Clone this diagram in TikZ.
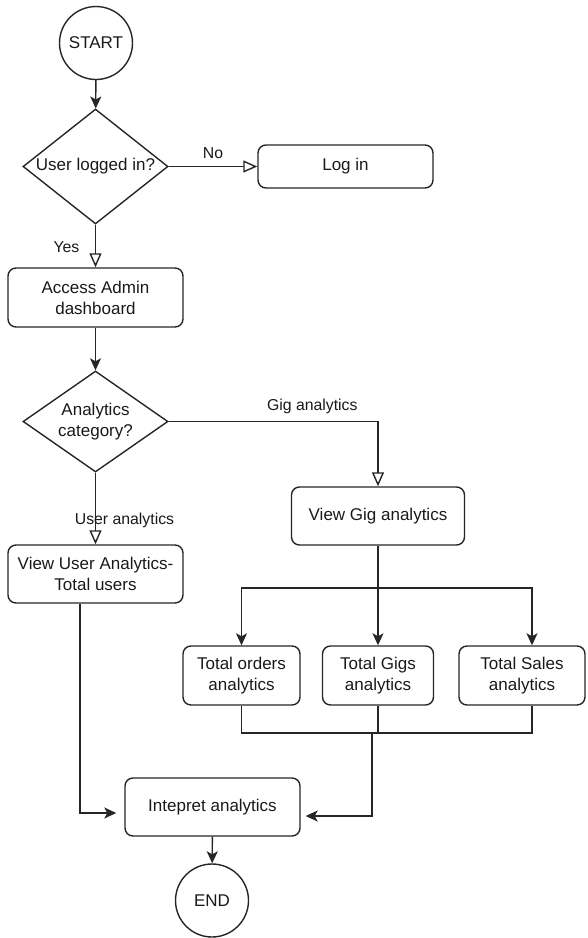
\documentclass[tikz,border=0pt]{standalone}
\usepackage{fontspec}
\setmainfont{Liberation Sans}
\usetikzlibrary{shapes.geometric,arrows.meta}
\begin{document}
\begin{tikzpicture}[x=1pt,y=-1pt,
  line width=1.4pt,
  every node/.style={font=\fontsize{17}{21}\selectfont, text=black!90},
  box/.style={draw=black!85, rounded corners=8pt, minimum width=175pt, minimum height=58pt, inner sep=0pt, align=center},
  term/.style={draw=black!85, circle, minimum size=73pt, inner sep=0pt},
  dec/.style={draw=black!85, diamond, inner sep=0pt, aspect=1},
  lbl/.style={font=\fontsize{15.8}{19}\selectfont, inner sep=0pt},
  conn/.style={draw=black!85},
  fa/.style={conn, -{Stealth[length=12pt,width=11pt,inset=3pt]}},
  oa/.style={conn, -{Triangle[open,length=14pt,width=12pt,fill=white]}},
]
\useasboundingbox (0,0) rectangle (587,938);

% nodes
\node[term] (start) at (96,43) {START};
\node[dec, minimum width=145pt, minimum height=115pt] (q1) at (95.5,166.5) {\makebox[0pt]{User logged in?}};
\node[box, minimum height=43pt] (login) at (345.5,166.5) {Log in};
\node[box, minimum height=59pt] (admin) at (95.5,297.5) {Access Admin\\dashboard};
\node[dec, minimum width=145pt, minimum height=101pt] (q2) at (95.5,421.5) {\makebox[0pt]{\begin{tabular}{@{}c@{}}Analytics\\category?\end{tabular}}};
\node[box] (user) at (95.5,574) {View User Analytics-\\Total users};
\node[box, minimum width=173pt] (gig) at (378,516) {View Gig analytics};
\node[box, minimum width=117pt, minimum height=59pt] (orders) at (241.5,675.5) {Total orders\\analytics};
\node[box, minimum width=111pt, minimum height=59pt] (gigs) at (378,675.5) {Total Gigs\\analytics};
\node[box, minimum width=126pt, minimum height=59pt] (sales) at (522,675.5) {Total Sales\\analytics};
\node[box] (interp) at (212.5,807) {Intepret analytics};
\node[term] (end) at (212,900.5) {END};

\coordinate (split) at (378,588);
\coordinate (merge) at (372,733);

% connectors
\draw[fa] (start) -- (q1);
\draw[oa] (q1.east) -- node[lbl, midway, yshift=13.5pt] {No} (login.west);
\draw[oa] (q1.south) -- node[lbl, midway, xshift=-29pt, yshift=-1.5pt] {Yes} (admin.north);
\draw[fa] (admin) -- (q2);
\draw[oa] (q2.east) -| node[lbl, pos=0.343, yshift=15pt] {Gig analytics} (gig.north);
\draw[oa] (q2.south) -- node[lbl, pos=0.66, xshift=29pt] {User analytics} (user.north);

\draw[conn] (gig.south) -- (split);
\draw[fa] (split) -| (orders.north);
\draw[fa] (split) -- (gigs.north);
\draw[fa] (split) -| ([xshift=10pt]sales.north);

\draw[conn] (orders.south) |- ([xshift=10pt]sales.south |- merge) -- ([xshift=10pt]sales.south);
\draw[conn] (gigs.south) -- (gigs.south |- merge);
\draw[fa, shorten >=5pt] (merge) |- ([yshift=-9pt]interp.east);
\draw[fa, shorten >=8pt] ([xshift=-15.5pt]user.south) |- ([yshift=-6pt]interp.west);
\draw[fa] (interp) -- (end);
\end{tikzpicture}
\end{document}
